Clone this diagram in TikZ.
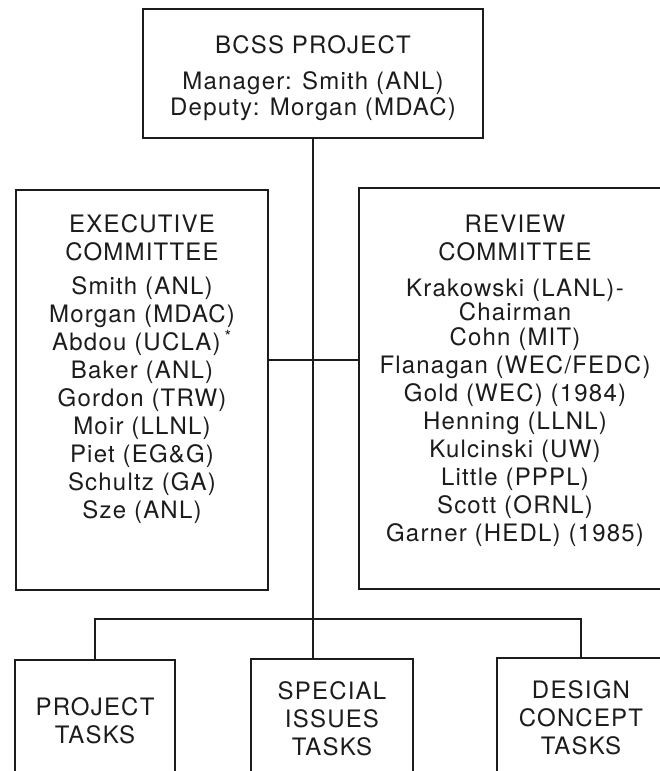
\documentclass[tikz,border=0pt]{standalone}
\usepackage{fontspec}
\setmainfont[LetterSpace=5]{TeX Gyre Heros}
\usetikzlibrary{positioning,calc}
\definecolor{ink}{HTML}{1C1C1C}
\newcommand{\px}{0.75pt}

\begin{document}
\begin{tikzpicture}[
    x=\px,y=-\px,
    box/.style={draw=ink,line width=1pt,inner sep=0pt},
    lbl/.style={align=center,text=ink,inner sep=0pt,font=\fontsize{18}{21}\selectfont},
    link/.style={draw=ink,line width=1pt}]
    \useasboundingbox (0,0) rectangle (660,771);
    \clip (0,0) rectangle (660,771);
    % boxes
    \node[box,minimum width=340*\px,minimum height=129*\px] (top) at (313,73.5) {};
    \node[box,minimum width=252*\px,minimum height=400*\px] (exec) at (142,390) {};
    \node[box,minimum width=313*\px,minimum height=401*\px] (rev) at (515.5,388.5) {};
    \node[box,lbl,minimum width=160*\px,minimum height=121*\px] (proj) at (95,720.5)
      {PROJECT\\TASKS};
    \node[box,lbl,minimum width=162*\px,minimum height=120*\px] (spec) at (332,719)
      {SPECIAL\\ISSUES\\TASKS};
    \node[box,lbl,minimum width=168*\px,minimum height=120*\px] (design) at (581,718)
      {DESIGN\\CONCEPT\\TASKS};
    % box texts
    \node[lbl,anchor=north] (topt) at (313,35)
      {BCSS PROJECT\\[6pt]Manager: Smith (ANL)\\[-1.5pt]Deputy: Morgan (MDAC)};
    \node[lbl,anchor=north] (exect) at (142,214)
      {EXECUTIVE\\COMMITTEE\\[5pt]Smith (ANL)\\Morgan (MDAC)\\Abdou (UCLA)\,\textsuperscript{*}\\
       Baker (ANL)\\Gordon (TRW)\\Moir (LLNL)\\Piet (EG\&G)\\Schultz (GA)\\Sze (ANL)};
    \node[lbl,anchor=north] (revt) at (515,215)
      {REVIEW\\COMMITTEE\\[6pt]Krakowski (LANL)\kern1pt-\\[-3.5pt]Chairman\\[-2pt]Cohn (MIT)\\
       Flanagan (WEC/FEDC)\\Gold (WEC) (1984)\\Henning (LLNL)\\Kulcinski (UW)\\
       Little (PPPL)\\Scott (ORNL)\\Garner (HEDL) (1985)};
    % connectors
    \coordinate (hub) at (313,360);
    \coordinate (bus) at (313,619);
    \draw[link] (top.south) -- (top.south |- spec.north);
    \draw[link] (exec.east |- hub) -- (rev.west |- hub);
    \draw[link] (proj.north) |- (bus) -| (design.north);
\end{tikzpicture}
\end{document}
